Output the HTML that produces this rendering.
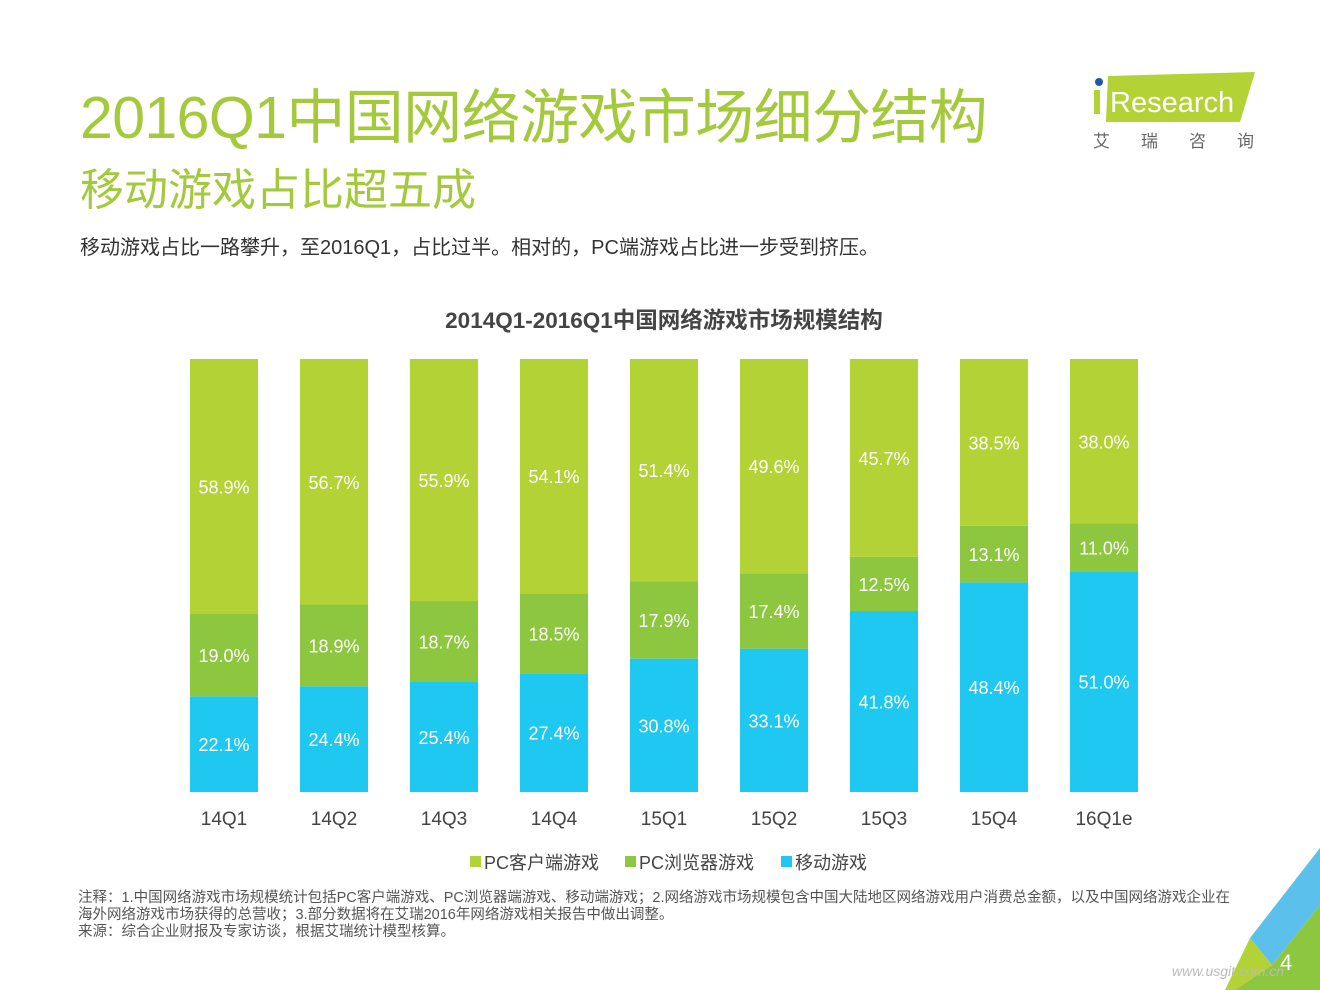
<!DOCTYPE html>
<html><head><meta charset="utf-8"><style>
body{margin:0;width:1320px;height:990px;background:#fff;position:relative;overflow:hidden;font-family:"Liberation Sans","Noto Sans CJK SC",sans-serif}
.abs{position:absolute;white-space:nowrap}
</style></head><body>
<div class="abs" style="left:80px;top:70px;font-size:59px;color:#a4c93b;letter-spacing:-0.6px">2016Q1中国网络游戏市场细分结构</div>
<div class="abs" style="left:80px;top:154px;font-size:44px;color:#a4c93b">移动游戏占比超五成</div>
<div class="abs" style="left:80px;top:231px;font-size:20px;color:#333">移动游戏占比一路攀升，至2016Q1，占比过半。相对的，PC端游戏占比进一步受到挤压。</div>
<div class="abs" style="left:1090px;top:70px;width:170px;height:85px">
<svg width="170" height="85"><polygon points="18,6 165,2 150,52 16,52" fill="#b3d236"/><circle cx="9" cy="12" r="4" fill="#1e5aa8"/><rect x="4" y="20" width="6" height="24" fill="#b3d236"/>
<text x="20" y="42" font-size="29" fill="#fff" font-family="Liberation Sans">Research</text>
<text x="3" y="77" font-size="17" fill="#666" font-family="Noto Sans CJK SC" letter-spacing="31">艾瑞咨询</text></svg></div>
<svg class="abs" style="left:0;top:0" width="1320" height="990" id="chart"></svg>
<div class="abs" style="left:78px;top:890px;font-size:14.5px;color:#555;line-height:17px">注释：1.中国网络游戏市场规模统计包括PC客户端游戏、PC浏览器端游戏、移动端游戏；2.网络游戏市场规模包含中国大陆地区网络游戏用户消费总金额，以及中国网络游戏企业在<br>海外网络游戏市场获得的总营收；3.部分数据将在艾瑞2016年网络游戏相关报告中做出调整。<br>来源：综合企业财报及专家访谈，根据艾瑞统计模型核算。</div>
<svg class="abs" style="left:0;top:0" width="1320" height="990">
<polygon points="1320,848 1320,905 1272,965 1250,938" fill="#5bc1ec"/>
<polygon points="1320,905 1320,990 1235,990 1272,965" fill="#8dc63f"/>
<polygon points="1250,938 1272,965 1235,990 1225,990" fill="#b3d236"/>
<text x="1280" y="970" font-size="22" fill="#fff">4</text>
<text x="1172" y="976" font-size="14" fill="#bbb" font-style="italic">www.usgit.com.cn</text></svg>
<script>
const categories=["14Q1","14Q2","14Q3","14Q4","15Q1","15Q2","15Q3","15Q4","16Q1e"];
const mobile=[22.1,24.4,25.4,27.4,30.8,33.1,41.8,48.4,51.0];
const browser=[19.0,18.9,18.7,18.5,17.9,17.4,12.5,13.1,11.0];
const client=[58.9,56.7,55.9,54.1,51.4,49.6,45.7,38.5,38.0];
const seriesNames=["PC客户端游戏","PC浏览器游戏","移动游戏"];
const colors=["#b3d236","#8dc63f","#1fc8f0"];
const svg=document.getElementById('chart');const NS="http://www.w3.org/2000/svg";
const top0=359,bot=792,x0=224,step=110,bw=68;
function y(v){return bot-(bot-top0)*v/100;}
function xc(i){return x0+i*step;}
function mk(t,a,p){const e=document.createElementNS(NS,t);for(const k in a)e.setAttribute(k,a[k]);(p||svg).appendChild(e);return e;}
const tt=mk('text',{x:664,y:328,'text-anchor':'middle','font-size':22.5,'font-weight':'bold',fill:'#444'});tt.textContent="2014Q1-2016Q1中国网络游戏市场规模结构";


categories.forEach((c,i)=>{
 const segs=[[mobile[i],colors[2],'mobile'],[browser[i],colors[1],'browser'],[client[i],colors[0],'client']];
 let acc=0;
 segs.forEach((s,j)=>{
  const y1=y(acc), y2=(j==2)?top0:y(acc+s[0]);
  const r=mk('rect',{x:xc(i)-bw/2,y:y2,width:bw,height:y1-y2,fill:s[1]});
  
  
  const t=mk('text',{x:xc(i),y:(y1+y2)/2+7,'text-anchor':'middle','font-size':18,fill:'#fff'});t.textContent=s[0].toFixed(1)+'%';
  
  
  acc+=s[0];
 });
 const l=mk('text',{x:xc(i),y:825,'text-anchor':'middle','font-size':19,fill:'#444'});l.textContent=c;
 
 
});
const lx=[470,625,781];
seriesNames.forEach((n,k)=>{
 const g=mk('g',{});
 
 
 mk('rect',{x:lx[k],y:856,width:11,height:11,fill:colors[k]},g);
 const t=mk('text',{x:lx[k]+14,y:869,'font-size':18,fill:'#444'},g);t.textContent=n;
});
</script>
</body></html>
